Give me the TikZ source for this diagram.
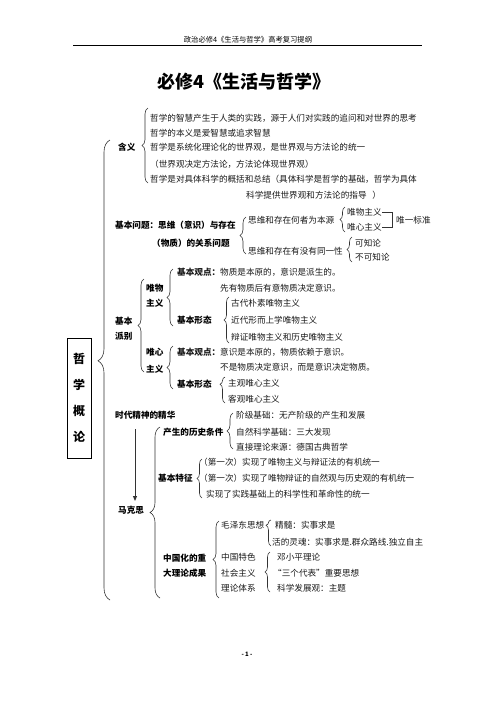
\documentclass[tikz,border=0pt]{standalone}
\usepackage{fontspec}
\setmainfont{Noto Sans CJK SC}
\usetikzlibrary{decorations.pathreplacing,arrows.meta,calc}
\begin{document}
\begin{tikzpicture}[x=1pt,y=-1pt,
  t/.style={anchor=west,inner sep=0pt,text=black!90,font=\fontsize{8.6}{10}\selectfont},
  b/.style={anchor=west,inner sep=0pt,text=black,font=\fontsize{8.6}{10}\selectfont\bfseries},
  brc/.style={decorate,decoration={brace,amplitude=#1},draw=black!80,line width=0.6pt},
  brc/.default=5pt,
  arr/.style={-{Triangle[length=5pt,width=4pt]},draw=black!80,line width=1pt}
]
\useasboundingbox (0,0) rectangle (496,702);
% header
\node[inner sep=0pt,font=\fontsize{7.3}{8}\selectfont] (hdr) at (248,40) {政治必修4《生活与哲学》高考复习提纲};
\draw[line width=0.8pt] (73,45.7) -- (422,45.7);
\node[inner sep=0pt,font=\fontsize{18}{20}\selectfont\bfseries] (title) at (244,82) {必修4《生活与哲学》};
% box
\node[draw,line width=0.8pt,minimum width=24pt,minimum height=120pt,inner sep=0pt,align=center,
  font=\fontsize{12}{26}\selectfont\bfseries] (box) at (79,398) {哲\\学\\概\\论};
\draw[brc=12pt,decoration={aspect=0.52}] (110,600) -- (110,140);
% hanyi
\node[b] (hy) at (118,147) {含义};
\draw[brc=6pt] (148,183) -- (148,108);
\node[t] (l1) at (150,118) {哲学的智慧产生于人类的实践，源于人们对实践的追问和对世界的思考};
\node[t] (l2) at (150,133) {哲学的本义是爱智慧或追求智慧};
\node[t] (l3) at (150,147) {哲学是系统化理论化的世界观，是世界观与方法论的统一};
\node[t] (l4) at (150,164) {（世界观决定方法论，方法论体现世界观）};
\node[t] (l5) at (150,179) {哲学是对具体科学的概括和总结（具体科学是哲学的基础，哲学为具体};
\node[t] (l6) at (246,195) {科学提供世界观和方法论的指导\ \ \ ）};
% basic question
\node[b] (q1) at (115,225) {基本问题：思维（意识）与存在};
\node[b] (q2) at (152,243) {（物质）的关系问题};
\draw[brc=6pt] (246,254) -- (246,217);
\node[t] (p1) at (248,220) {思维和存在何者为本源};
\node[t] (p2) at (248,251) {思维和存在有没有同一性};
\draw[brc=5pt] (345,232) -- (345,207);
\node[t] (w1) at (347,212) {唯物主义};
\node[t] (w2) at (347,227) {唯心主义};
\draw[draw=black!80,line width=0.6pt] (w1.east) -- ++(10,0) -- ($(w2.east)+(10,0)$) -- (w2.east);
\node[t] (wy) at (396,220) {唯一标准};
\draw[brc=5pt] (352,262) -- (352,237);
\node[t] (k1) at (355,243) {可知论};
\node[t] (k2) at (355,257) {不可知论};
% basic schools
\node[b] (j1) at (115,321) {基本};
\node[b] (j2) at (115,336) {派别};
\draw[brc=6pt] (144,372) -- (144,279);
\node[b] (wm1) at (146,288) {唯物};
\node[b] (wm2) at (146,303) {主义};
\draw[brc=6pt] (173,326) -- (173,269);
\node[t] (c1) at (177,272) {\textbf{基本观点：}物质是本原的，意识是派生的。};
\node[t] (c2) at (220,288) {先有物质后有意物质决定意识。};
\node[b] (c3) at (177,320) {基本形态};
\draw[brc=5pt] (229,343) -- (229,297);
\node[t] (f1) at (231,303) {古代朴素唯物主义};
\node[t] (f2) at (231,320) {近代形而上学唯物主义};
\node[t] (f3) at (231,337) {辩证唯物主义和历史唯物主义};
\node[b] (wx1) at (146,352) {唯心};
\node[b] (wx2) at (146,369) {主义};
\draw[brc=6pt] (173,389) -- (173,346);
\node[t] (d1) at (177,352) {\textbf{基本观点：}意识是本原的，物质依赖于意识。};
\node[t] (d2) at (220,367) {不是物质决定意识，而是意识决定物质。};
\node[b] (d3) at (177,384) {基本形态};
\draw[brc=5pt,decoration={aspect=0.72}] (225,403) -- (225,377);
\node[t] (x1) at (228,383) {主观唯心主义};
\node[t] (x2) at (228,399) {客观唯心主义};
% marxism
\node[b] (sd) at (115,415) {时代精神的精华};
\node[b] (mk) at (118,510) {马克思};
\draw[arr] (135,429) -- (135,501);
\draw[brc=10pt] (160,598) -- (160,427);
\node[b] (h) at (163,432) {产生的历史条件};
\draw[brc=6pt] (233,449) -- (233,413);
\node[t] (h1) at (236,415) {阶级基础：无产阶级的产生和发展};
\node[t] (h2) at (236,432) {自然科学基础：三大发现};
\node[t] (h3) at (236,447) {直接理论来源：德国古典哲学};
\node[b] (tz) at (158,478) {基本特征};
\draw[brc=5pt] (202,498) -- (202,459);
\node[t] (t1) at (199,462) {（第一次）实现了唯物主义与辩证法的有机统一};
\node[t] (t2) at (199,478) {（第一次）实现了唯物辩证的自然观与历史观的有机统一};
\node[t] (t3) at (206,494) {实现了实践基础上的科学性和革命性的统一};
\node[b] (zg1) at (163,558) {中国化的重};
\node[b] (zg2) at (163,573) {大理论成果};
\draw[brc=6pt] (219,598) -- (219,521);
\node[t] (mz) at (221,525) {毛泽东思想};
\draw[brc=5pt,decoration={aspect=0.8}] (271,546) -- (271,520);
\node[t] (js) at (275,525) {精髓：实事求是};
\node[t] (hl) at (272,542) {活的灵魂：实事求是.群众路线.独立自主};
\node[t] (zt1) at (221,557) {中国特色};
\node[t] (zt2) at (221,573) {社会主义};
\node[t] (zt3) at (221,588) {理论体系};
\draw[brc=5pt] (270,592) -- (270,552);
\node[t] (e1) at (277,557) {邓小平理论};
\node[t] (e2) at (273,573) {“三个代表”重要思想};
\node[t] (e3) at (277,588) {科学发展观：主题};
% page number
\node[inner sep=0pt,font=\fontsize{6}{7}\selectfont\bfseries] (pg) at (247,654) {- 1 -};
\end{tikzpicture}
\end{document}
